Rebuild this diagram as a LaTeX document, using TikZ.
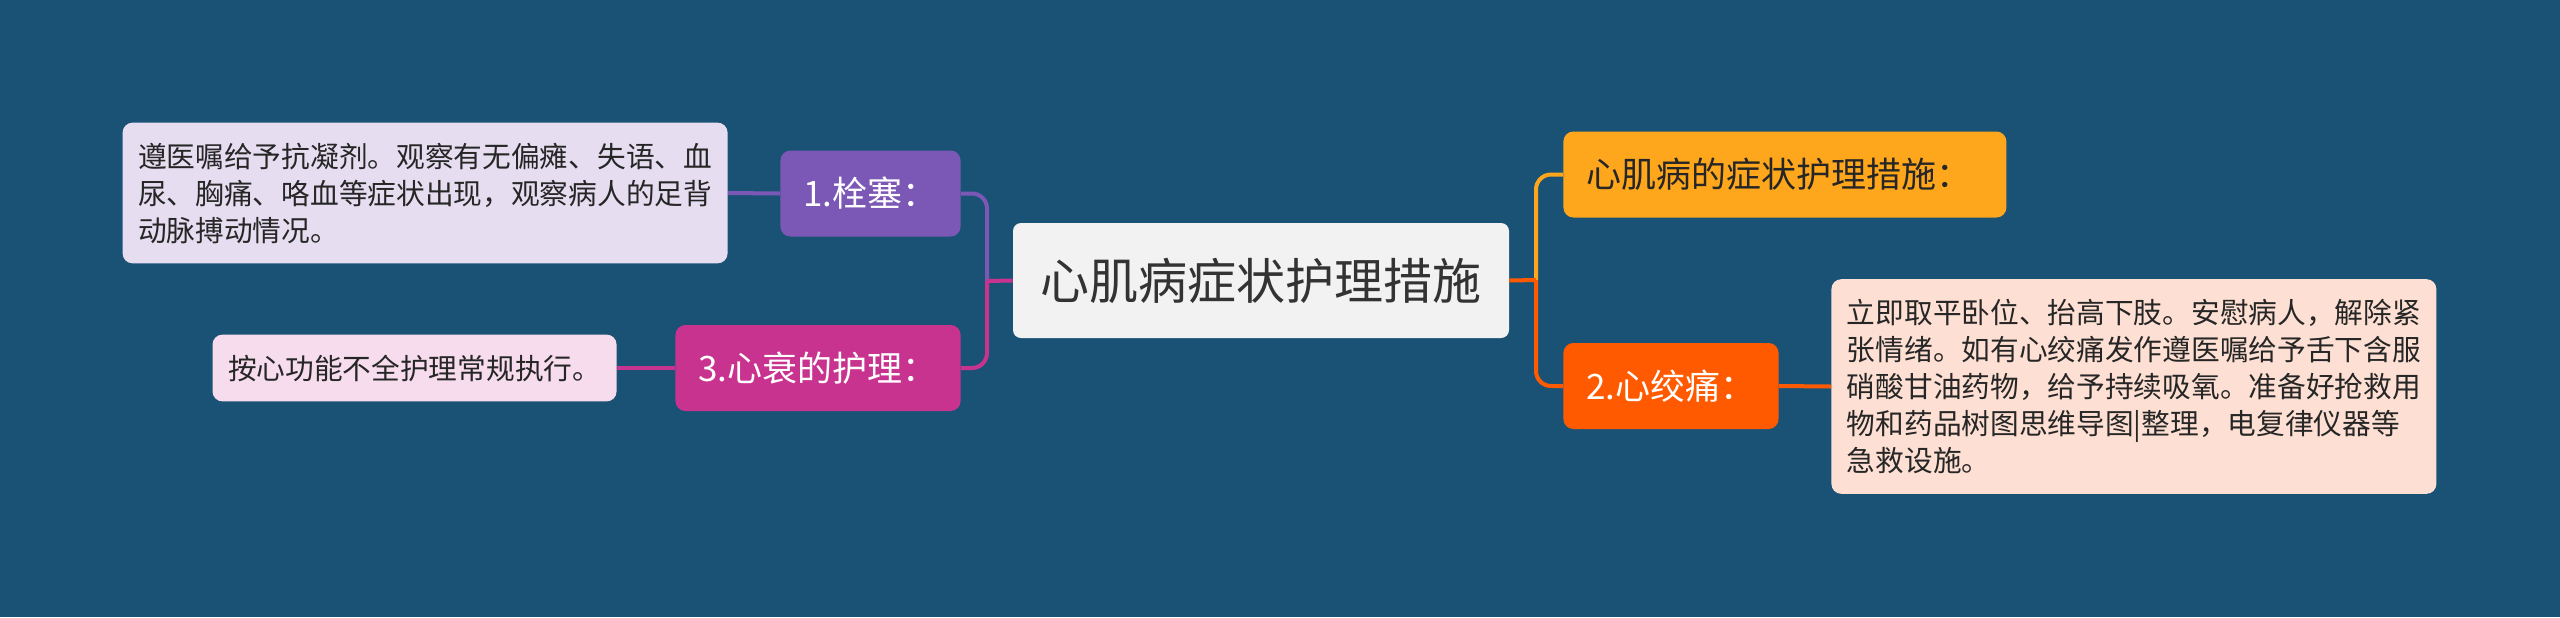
\documentclass[tikz,border=0pt]{standalone}
\usepackage{fontspec}
\newfontfamily\cjk{Noto Sans CJK SC}
\usepackage{tikz}

\definecolor{bgblue}{HTML}{1A5276}
\definecolor{rootfill}{HTML}{F2F2F2}
\definecolor{embcol}{HTML}{7B57B6}
\definecolor{hfcol}{HTML}{C8338F}
\definecolor{symcol}{HTML}{FFA71C}
\definecolor{anginacol}{HTML}{FF5A00}
\definecolor{embleaf}{HTML}{E6DEF0}
\definecolor{hfleaf}{HTML}{F6DCEC}
\definecolor{anginaleaf}{HTML}{FDE0D3}

\tikzset{
  root/.style={rectangle, rounded corners=4pt, fill=rootfill, text=black!80,
    minimum width=248pt, minimum height=57.5pt, font=\cjk\fontsize{24.5}{29}\selectfont},
  branch/.style={rectangle, rounded corners=5pt, text=white, inner xsep=11.5pt,
    minimum height=43pt, font=\cjk\fontsize{17.5}{21}\selectfont},
  leaf/.style={rectangle, rounded corners=5pt, text=black!85, align=left,
    inner xsep=7.75pt, inner ysep=10pt, font=\cjk\fontsize{14.35}{18.5}\selectfont},
  link/.style={line width=2pt, rounded corners=7.5pt}
}

\begin{document}
\begin{tikzpicture}[x=0.5pt, y=-0.5pt]
  \fill[bgblue] (0,0) rectangle (2560,617);
  \useasboundingbox (0,0) rectangle (2560,617);
  \node[root] (root) at (1261,280.5) {心肌病症状护理措施};
  \node[branch, fill=symcol, text=black!85, anchor=west, minimum width=221.5pt, align=left, text width=198.5pt] (symptom) at (1563,174.5) {心肌病的症状护理措施：};
  \node[branch, fill=anginacol, anchor=west] (angina) at (1563,386) {2.心绞痛：};
  \node[leaf, fill=anginaleaf, anchor=west] (anginatxt) at (1831,386.5) {立即取平卧位、抬高下肢。安慰病人，解除紧\\张情绪。如有心绞痛发作遵医嘱给予舌下含服\\硝酸甘油药物，给予持续吸氧。准备好抢救用\\物和药品树图思维导图|整理，电复律仪器等\\急救设施。};
  \node[branch, fill=embcol, anchor=east] (embolism) at (961,193.5) {1.栓塞：};
  \node[branch, fill=hfcol, anchor=east] (heartfail) at (961,368) {3.心衰的护理：};
  \node[leaf, fill=embleaf, anchor=east] (embtxt) at (728,193) {遵医嘱给予抗凝剂。观察有无偏瘫、失语、血\\尿、胸痛、咯血等症状出现，观察病人的足背\\动脉搏动情况。};
  \node[leaf, fill=hfleaf, anchor=east, minimum height=33pt] (hftxt) at (617,368) {按心功能不全护理常规执行。};
  \coordinate (ljoin) at (987,281);
  \coordinate (rjoin) at (1536,280);
  % left side
  \draw[link, embcol] (ljoin) |- (embolism.east);
  \draw[link, hfcol] (ljoin) |- (heartfail.east);
  \draw[link, hfcol] (root.west) -- (ljoin);
  \draw[link, embcol] (embolism.west) -- (embtxt.east);
  \draw[link, hfcol] (heartfail.west) -- (hftxt.east);
  % right side
  \draw[link, symcol] (rjoin) |- (symptom.west);
  \draw[link, anginacol] (rjoin) |- (angina.west);
  \draw[link, anginacol] (root.east) -- (rjoin);
  \draw[link, anginacol] (angina.east) -- (anginatxt.west);
\end{tikzpicture}
\end{document}
